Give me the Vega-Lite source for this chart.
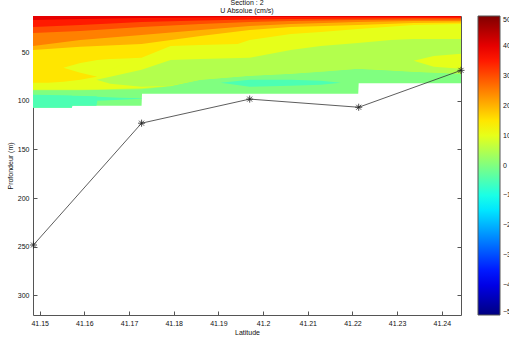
{
  "$schema": "https://vega.github.io/schema/vega-lite/v6.json",
  "autosize": {"type": "none"},
  "width": 428,
  "height": 299,
  "padding": {"left": 33, "top": 16, "right": 48, "bottom": 22},
  "background": "white",
  "title": {"text": ["Section : 2", "U Absolue (cm/s)"], "fontSize": 7, "fontWeight": "normal", "font": "Liberation Sans", "lineHeight": 7.5, "offset": 2, "anchor": "middle", "frame": "group", "color": "#111"},
  "config": {
    "view": {"stroke": null},
    "font": "Liberation Sans",
    "axis": {"grid": false, "domainColor": "#555", "tickColor": "#555", "tickSize": -4, "labelPadding": 8, "labelFontSize": 7, "labelColor": "#111", "titleFontSize": 7, "titleFontWeight": "normal", "titleColor": "#111", "labelFont": "Liberation Sans", "titleFont": "Liberation Sans"}
  },
  "datasets": {
    "bands": [
      {"b": "01", "v": 0, "lat": 41.1485, "t": 12.5, "d": 107.0},
      {"b": "01", "v": 0, "lat": 41.1572, "t": 12.5, "d": 107.0},
      {"b": "01", "v": 0, "lat": 41.1573, "t": 12.5, "d": 104.9},
      {"b": "01", "v": 0, "lat": 41.1728, "t": 12.5, "d": 104.9},
      {"b": "01", "v": 0, "lat": 41.1729, "t": 12.5, "d": 92.6},
      {"b": "01", "v": 0, "lat": 41.2213, "t": 12.5, "d": 92.6},
      {"b": "01", "v": 0, "lat": 41.2214, "t": 12.5, "d": 81.8},
      {"b": "01", "v": 0, "lat": 41.2443, "t": 12.5, "d": 81.8},

      {"b": "02", "v": -5, "lat": 41.1485, "t": 93.6, "d": 107.0},
      {"b": "02", "v": -5, "lat": 41.1553, "t": 94.1, "d": 107.0},
      {"b": "02", "v": -5, "lat": 41.1572, "t": 94.4, "d": 107.0},
      {"b": "02", "v": -5, "lat": 41.1573, "t": 94.7, "d": 104.9},
      {"b": "02", "v": -5, "lat": 41.1627, "t": 95.2, "d": 104.9},
      {"b": "02", "v": -5, "lat": 41.1629, "t": 95.7, "d": 99.8},
      {"b": "02", "v": -5, "lat": 41.1680, "t": 96.7, "d": 98.8},
      {"b": "02", "v": -5, "lat": 41.1728, "t": 97.2, "d": 97.7},

      {"b": "03", "v": -5, "lat": 41.1905, "t": 81.3, "d": 81.3},
      {"b": "03", "v": -5, "lat": 41.1970, "t": 78.2, "d": 85.4},
      {"b": "03", "v": -5, "lat": 41.2062, "t": 78.2, "d": 84.4},
      {"b": "03", "v": -5, "lat": 41.2129, "t": 79.3, "d": 83.4},
      {"b": "03", "v": -5, "lat": 41.2174, "t": 81.3, "d": 81.3},

      {"b": "04", "v": 5, "lat": 41.1485, "t": 12.5, "d": 89.0},
      {"b": "04", "v": 5, "lat": 41.1591, "t": 12.5, "d": 89.0},
      {"b": "04", "v": 5, "lat": 41.1728, "t": 12.5, "d": 88.0},
      {"b": "04", "v": 5, "lat": 41.1793, "t": 12.5, "d": 84.9},
      {"b": "04", "v": 5, "lat": 41.1860, "t": 12.5, "d": 78.2},
      {"b": "04", "v": 5, "lat": 41.1970, "t": 12.5, "d": 74.1},
      {"b": "04", "v": 5, "lat": 41.2062, "t": 12.5, "d": 72.1},
      {"b": "04", "v": 5, "lat": 41.2212, "t": 12.5, "d": 66.9},
      {"b": "04", "v": 5, "lat": 41.2337, "t": 12.5, "d": 70.0},
      {"b": "04", "v": 5, "lat": 41.2443, "t": 12.5, "d": 72.1},

      {"b": "05", "v": 10, "lat": 41.1485, "t": 12.5, "d": 88.5},
      {"b": "05", "v": 10, "lat": 41.1591, "t": 12.5, "d": 88.5},
      {"b": "05", "v": 10, "lat": 41.1628, "t": 12.5, "d": 88.3},
      {"b": "05", "v": 10, "lat": 41.1728, "t": 12.5, "d": 87.0},
      {"b": "05", "v": 10, "lat": 41.1793, "t": 12.5, "d": 84.4},
      {"b": "05", "v": 10, "lat": 41.1860, "t": 12.5, "d": 77.7},
      {"b": "05", "v": 10, "lat": 41.1970, "t": 12.5, "d": 73.6},
      {"b": "05", "v": 10, "lat": 41.2062, "t": 12.5, "d": 71.6},
      {"b": "05", "v": 10, "lat": 41.2212, "t": 12.5, "d": 66.4},
      {"b": "05", "v": 10, "lat": 41.2337, "t": 12.5, "d": 69.5},
      {"b": "05", "v": 10, "lat": 41.2443, "t": 12.5, "d": 71.6},

      {"b": "06", "v": 15, "lat": 41.1485, "t": 12.5, "d": 81.3},
      {"b": "06", "v": 15, "lat": 41.1519, "t": 12.5, "d": 81.3},
      {"b": "06", "v": 15, "lat": 41.1553, "t": 12.5, "d": 80.3},
      {"b": "06", "v": 15, "lat": 41.1591, "t": 12.5, "d": 78.2},
      {"b": "06", "v": 15, "lat": 41.1627, "t": 12.5, "d": 75.1},
      {"b": "06", "v": 15, "lat": 41.1658, "t": 12.5, "d": 59.7},
      {"b": "06", "v": 15, "lat": 41.1728, "t": 12.5, "d": 55.6},
      {"b": "06", "v": 15, "lat": 41.1793, "t": 12.5, "d": 43.3},
      {"b": "06", "v": 15, "lat": 41.1860, "t": 12.5, "d": 42.3},
      {"b": "06", "v": 15, "lat": 41.1943, "t": 12.5, "d": 41.3},
      {"b": "06", "v": 15, "lat": 41.1970, "t": 12.5, "d": 37.1},
      {"b": "06", "v": 15, "lat": 41.2062, "t": 12.5, "d": 31.0},
      {"b": "06", "v": 15, "lat": 41.2129, "t": 12.5, "d": 29.0},
      {"b": "06", "v": 15, "lat": 41.2212, "t": 12.5, "d": 25.9},
      {"b": "06", "v": 15, "lat": 41.2337, "t": 12.5, "d": 21.7},
      {"b": "06", "v": 15, "lat": 41.2443, "t": 12.5, "d": 20.7},

      {"b": "07", "v": 10, "lat": 41.1553, "t": 65.9, "d": 65.9},
      {"b": "07", "v": 10, "lat": 41.1591, "t": 60.8, "d": 71.0},
      {"b": "07", "v": 10, "lat": 41.1629, "t": 57.7, "d": 75.1},
      {"b": "07", "v": 10, "lat": 41.1658, "t": 56.7, "d": 67.9},
      {"b": "07", "v": 10, "lat": 41.1692, "t": 56.2, "d": 60.8},
      {"b": "07", "v": 10, "lat": 41.1728, "t": 55.6, "d": 55.6},

      {"b": "08", "v": 5, "lat": 41.1627, "t": 78.2, "d": 78.2},
      {"b": "08", "v": 5, "lat": 41.1658, "t": 75.1, "d": 82.3},
      {"b": "08", "v": 5, "lat": 41.1728, "t": 67.9, "d": 85.4},
      {"b": "08", "v": 5, "lat": 41.1793, "t": 57.7, "d": 84.4},
      {"b": "08", "v": 5, "lat": 41.1860, "t": 56.7, "d": 78.2},
      {"b": "08", "v": 5, "lat": 41.1970, "t": 55.6, "d": 74.1},
      {"b": "08", "v": 5, "lat": 41.2062, "t": 47.4, "d": 72.1},
      {"b": "08", "v": 5, "lat": 41.2129, "t": 43.3, "d": 69.8},
      {"b": "08", "v": 5, "lat": 41.2212, "t": 40.2, "d": 66.9},
      {"b": "08", "v": 5, "lat": 41.2286, "t": 37.1, "d": 68.4},
      {"b": "08", "v": 5, "lat": 41.2337, "t": 36.1, "d": 70.0},
      {"b": "08", "v": 5, "lat": 41.2443, "t": 36.1, "d": 72.1},

      {"b": "09", "v": 10, "lat": 41.2337, "t": 58.7, "d": 58.7},
      {"b": "09", "v": 10, "lat": 41.2382, "t": 53.6, "d": 64.9},
      {"b": "09", "v": 10, "lat": 41.2443, "t": 51.5, "d": 66.9},

      {"b": "10", "v": 20, "lat": 41.1485, "t": 12.5, "d": 47.4},
      {"b": "10", "v": 20, "lat": 41.1591, "t": 12.5, "d": 44.3},
      {"b": "10", "v": 20, "lat": 41.1728, "t": 12.5, "d": 41.3},
      {"b": "10", "v": 20, "lat": 41.1860, "t": 12.5, "d": 33.0},
      {"b": "10", "v": 20, "lat": 41.1970, "t": 12.5, "d": 26.9},
      {"b": "10", "v": 20, "lat": 41.2062, "t": 12.5, "d": 23.8},
      {"b": "10", "v": 20, "lat": 41.2212, "t": 12.5, "d": 21.7},
      {"b": "10", "v": 20, "lat": 41.2337, "t": 12.5, "d": 19.7},
      {"b": "10", "v": 20, "lat": 41.2443, "t": 12.5, "d": 19.2},

      {"b": "11", "v": 25, "lat": 41.1485, "t": 12.5, "d": 43.3},
      {"b": "11", "v": 25, "lat": 41.1591, "t": 12.5, "d": 37.1},
      {"b": "11", "v": 25, "lat": 41.1728, "t": 12.5, "d": 32.0},
      {"b": "11", "v": 25, "lat": 41.1860, "t": 12.5, "d": 26.9},
      {"b": "11", "v": 25, "lat": 41.1970, "t": 12.5, "d": 22.8},
      {"b": "11", "v": 25, "lat": 41.2062, "t": 12.5, "d": 20.7},
      {"b": "11", "v": 25, "lat": 41.2212, "t": 12.5, "d": 18.7},
      {"b": "11", "v": 25, "lat": 41.2337, "t": 12.5, "d": 17.6},
      {"b": "11", "v": 25, "lat": 41.2443, "t": 12.5, "d": 17.6},

      {"b": "12", "v": 30, "lat": 41.1485, "t": 12.5, "d": 30.0},
      {"b": "12", "v": 30, "lat": 41.1591, "t": 12.5, "d": 27.9},
      {"b": "12", "v": 30, "lat": 41.1728, "t": 12.5, "d": 23.8},
      {"b": "12", "v": 30, "lat": 41.1860, "t": 12.5, "d": 20.7},
      {"b": "12", "v": 30, "lat": 41.1970, "t": 12.5, "d": 18.7},
      {"b": "12", "v": 30, "lat": 41.2062, "t": 12.5, "d": 17.6},
      {"b": "12", "v": 30, "lat": 41.2212, "t": 12.5, "d": 16.6},
      {"b": "12", "v": 30, "lat": 41.2337, "t": 12.5, "d": 16.1},
      {"b": "12", "v": 30, "lat": 41.2443, "t": 12.5, "d": 16.1},

      {"b": "13", "v": 35, "lat": 41.1485, "t": 12.5, "d": 23.8},
      {"b": "13", "v": 35, "lat": 41.1591, "t": 12.5, "d": 21.7},
      {"b": "13", "v": 35, "lat": 41.1728, "t": 12.5, "d": 18.7},
      {"b": "13", "v": 35, "lat": 41.1860, "t": 12.5, "d": 17.1},
      {"b": "13", "v": 35, "lat": 41.1970, "t": 12.5, "d": 16.1},
      {"b": "13", "v": 35, "lat": 41.2062, "t": 12.5, "d": 15.6},
      {"b": "13", "v": 35, "lat": 41.2212, "t": 12.5, "d": 15.1},
      {"b": "13", "v": 35, "lat": 41.2337, "t": 12.5, "d": 14.6},
      {"b": "13", "v": 35, "lat": 41.2443, "t": 12.5, "d": 14.6},

      {"b": "14", "v": 40, "lat": 41.1485, "t": 12.5, "d": 16.6},
      {"b": "14", "v": 40, "lat": 41.1591, "t": 12.5, "d": 15.6},
      {"b": "14", "v": 40, "lat": 41.1728, "t": 12.5, "d": 14.6},
      {"b": "14", "v": 40, "lat": 41.1860, "t": 12.5, "d": 14.0},
      {"b": "14", "v": 40, "lat": 41.1970, "t": 12.5, "d": 13.5},
      {"b": "14", "v": 40, "lat": 41.2443, "t": 12.5, "d": 13.3}
    ],
    "stations": [
      {"lat": 41.1486, "d": 248.4},
      {"lat": 41.1728, "d": 122.9},
      {"lat": 41.1970, "d": 98.1},
      {"lat": 41.2214, "d": 106.5},
      {"lat": 41.2443, "d": 68.5}
    ]
  },
  "layer": [
    {
      "data": {"name": "bands"},
      "mark": {"type": "area", "clip": true, "interpolate": "linear"},
      "encoding": {
        "x": {"field": "lat", "type": "quantitative", "scale": {"domain": [41.1485, 41.2443], "nice": false, "zero": false},
              "axis": {"orient": "bottom", "values": [41.15, 41.16, 41.17, 41.18, 41.19, 41.2, 41.21, 41.22, 41.23, 41.24], "format": "~g", "title": "Latitude", "titlePadding": 2}},
        "y": {"field": "t", "type": "quantitative", "stack": null, "scale": {"domain": [12.5, 320.5], "reverse": true, "nice": false, "zero": false},
              "axis": {"orient": "left", "values": [50, 100, 150, 200, 250, 300], "title": "Profondeur (m)", "titlePadding": 4}},
        "y2": {"field": "d"},
        "detail": {"field": "b", "type": "nominal"},
        "color": {"field": "v", "type": "quantitative",
                  "scale": {"domain": [-50, -37.5, -12.5, 12.5, 37.5, 50], "range": ["#000080", "#0000ff", "#00ffff", "#ffff00", "#ff0000", "#800000"], "interpolate": "rgb"},
                  "legend": {"orient": "none", "legendX": 445, "legendY": 0, "direction": "vertical", "gradientLength": 299, "gradientThickness": 22, "values": [-50, -40, -30, -20, -10, 0, 10, 20, 30, 40, 50], "title": null, "labelFontSize": 7, "labelOffset": 3, "labelColor": "#111", "gradientStrokeColor": "#555", "gradientStrokeWidth": 1}}
      }
    },
    {
      "data": {"name": "stations"},
      "mark": {"type": "line", "color": "#333", "strokeWidth": 0.8, "point": {"shape": "M-1,0H1M0,-1V1M-0.7,-0.7L0.7,0.7M-0.7,0.7L0.7,-0.7", "filled": false, "stroke": "#222", "strokeWidth": 0.8, "size": 50}},
      "encoding": {
        "x": {"field": "lat", "type": "quantitative", "scale": {"domain": [41.1485, 41.2443], "nice": false, "zero": false},
              "axis": {"orient": "top", "values": [41.15, 41.16, 41.17, 41.18, 41.19, 41.2, 41.21, 41.22, 41.23, 41.24], "labels": false, "title": null}},
        "y": {"field": "d", "type": "quantitative", "scale": {"domain": [12.5, 320.5], "reverse": true, "nice": false, "zero": false},
              "axis": {"orient": "right", "values": [50, 100, 150, 200, 250, 300], "labels": false, "title": null}}
      }
    }
  ],
  "resolve": {"axis": {"x": "independent", "y": "independent"}}
}
